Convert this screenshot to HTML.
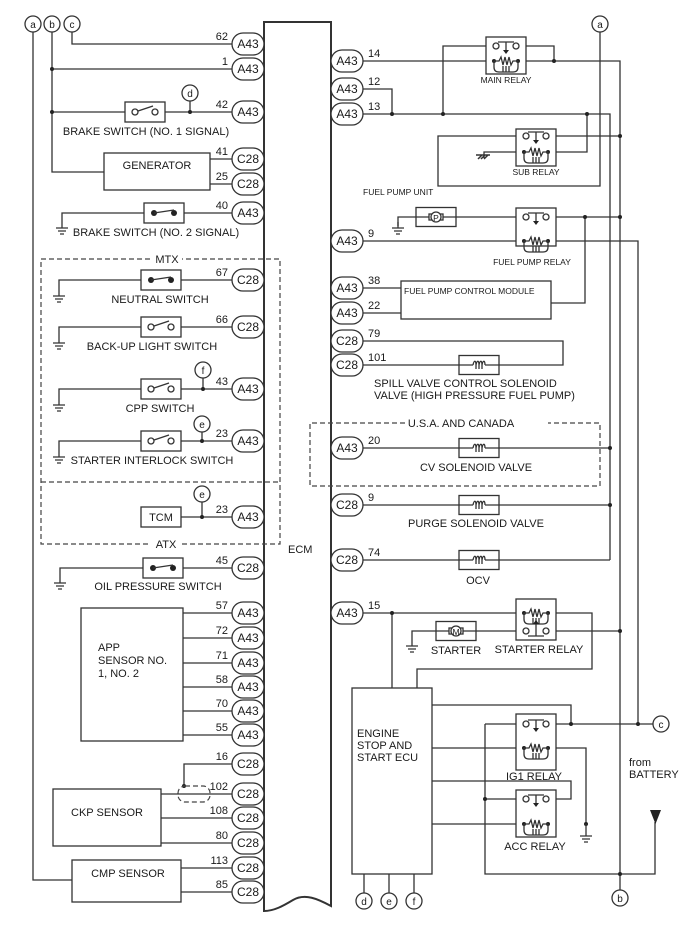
<!DOCTYPE html>
<html><head><meta charset="utf-8"><style>
html,body{margin:0;padding:0;background:#fff;}
svg{display:block;font-family:"Liberation Sans",Arial,sans-serif;}
.w{stroke:#333;stroke-width:1.3;fill:none;}
.b{stroke:#333;stroke-width:1.3;fill:#fff;}
.t{font-size:11px;fill:#1a1a1a;}
.s{font-size:8.5px;fill:#1a1a1a;}
.p{font-size:12px;fill:#1a1a1a;text-anchor:middle;}
.n{font-size:11px;fill:#1a1a1a;}
.c{font-size:10px;fill:#1a1a1a;text-anchor:middle;}
.d{fill:#222;}
.dash{stroke:#444;stroke-width:1.2;fill:none;stroke-dasharray:5,3;}
</style></head><body>
<svg width="688" height="949" viewBox="0 0 688 949" xmlns="http://www.w3.org/2000/svg">
<defs>
 <g id="pill"><rect x="0" y="-11" width="32" height="22" rx="11" class="b"/></g>
 <g id="gnd"><path class="w" d="M0,0V6M-6,6H6M-4,9H4M-2,12H2"/></g>
 <g id="swo"><rect x="0" y="-10" width="40" height="20" class="b"/><circle cx="10" cy="0" r="3" class="b"/><circle cx="30" cy="0" r="3" class="b"/><path class="w" d="M13,-1L28,-6"/></g>
 <g id="swc"><rect x="0" y="-10" width="40" height="20" class="b"/><circle cx="10" cy="0" r="3" class="d"/><circle cx="30" cy="0" r="3" class="d"/><path class="w" d="M10,0L30,-3"/></g>
 <g id="sol"><rect x="0" y="-9.5" width="40" height="19" class="b"/><path class="w" d="M0,0H14M26,0H40M14,0C15,-5 17,-5 17,0M17,0C18,-5 20,-5 20,0M20,0C21,-5 23,-5 23,0M23,0C24,-5 26,-5 26,0" /><path class="w" d="M17,0V4M20,0V4M23,0V4"/></g>
 <g id="con"><circle cx="10" cy="0" r="3" class="b"/><circle cx="30" cy="0" r="3" class="b"/><path class="w" d="M12,-4H28M20,-4V5"/><path class="d" d="M17,4L23,4L20,8Z"/></g>
 <g id="coil"><circle cx="8" cy="0" r="2" class="d"/><circle cx="32" cy="0" r="2" class="d"/><path class="w" d="M8,0H13L15,-4L17,4L19,-4L21,4L23,-4L25,4L27,0H32M8,0V6Q8,11 13,11H27Q32,11 32,6V0M17,5V11M20,5V11M23,5V11"/></g>
 <g id="mot"><rect x="0" y="-9.5" width="40" height="19" class="b"/><path class="w" d="M0,0H13M27,0H40"/><rect x="13" y="-3" width="3" height="6" class="b"/><rect x="24" y="-3" width="3" height="6" class="b"/><circle cx="20" cy="0" r="5" class="b"/></g>
</defs>

<!-- ECM -->
<path class="w" style="stroke-width:2" d="M264,22H331V906C318,899 305,893 293,900C283,906 274,911 264,911Z"/>
<text x="288" y="553" class="t">ECM</text>

<!-- left wires -->
<path class="w" d="M33,32V880H72M52,32V172H104M72,32V44H232M52,69H232M52,112H232"/>
<circle cx="52" cy="69" r="2" class="d"/><circle cx="52" cy="112" r="2" class="d"/>
<circle cx="33" cy="24" r="8" class="b"/><text x="33" y="28" class="c">a</text>
<circle cx="52" cy="24" r="8" class="b"/><text x="52" y="28" class="c">b</text>
<circle cx="72" cy="24" r="8" class="b"/><text x="72" y="28" class="c">c</text>
<use href="#swo" x="125" y="112"/>
<path class="w" d="M190,112V101"/><circle cx="190" cy="112" r="2" class="d"/><circle cx="190" cy="93" r="8" class="b"/><text x="190" y="97" class="c">d</text>
<text x="146" y="135" class="t" text-anchor="middle">BRAKE SWITCH (NO. 1 SIGNAL)</text>
<rect x="104" y="153" width="106" height="37" class="b"/>
<text x="157" y="169" class="t" text-anchor="middle">GENERATOR</text>
<path class="w" d="M210,159H232M210,184H232"/>
<path class="w" d="M62,222V213H232"/><use href="#gnd" x="62" y="222"/>
<use href="#swc" x="144" y="213"/>
<text x="156" y="236" class="t" text-anchor="middle">BRAKE SWITCH (NO. 2 SIGNAL)</text>

<!-- MTX/ATX -->
<path class="dash" d="M150,259H41V544H150M182,544H280V259H182M41,482H280"/>
<text x="167" y="263" class="t" text-anchor="middle">MTX</text>
<text x="166" y="548" class="t" text-anchor="middle">ATX</text>
<path class="w" d="M59,290V280H232M59,337V327H232M59,399V389H232M59,451V441H232"/>
<use href="#gnd" x="59" y="290"/><use href="#gnd" x="59" y="337"/><use href="#gnd" x="59" y="399"/><use href="#gnd" x="59" y="451"/>
<use href="#swc" x="141" y="280"/><use href="#swo" x="141" y="327"/><use href="#swo" x="141" y="389"/><use href="#swo" x="141" y="441"/>
<text x="160" y="303" class="t" text-anchor="middle">NEUTRAL SWITCH</text>
<text x="152" y="350" class="t" text-anchor="middle">BACK-UP LIGHT SWITCH</text>
<text x="160" y="412" class="t" text-anchor="middle">CPP SWITCH</text>
<text x="152" y="464" class="t" text-anchor="middle">STARTER INTERLOCK SWITCH</text>
<path class="w" d="M203,389V378M202,441V432M202,517V502M181,517H232"/>
<circle cx="203" cy="389" r="2" class="d"/><circle cx="202" cy="441" r="2" class="d"/><circle cx="202" cy="517" r="2" class="d"/>
<circle cx="203" cy="370" r="8" class="b"/><text x="203" y="374" class="c">f</text>
<circle cx="202" cy="424" r="8" class="b"/><text x="202" y="428" class="c">e</text>
<circle cx="202" cy="494" r="8" class="b"/><text x="202" y="498" class="c">e</text>
<rect x="141" y="507" width="40" height="20" class="b"/><text x="161" y="521" class="t" text-anchor="middle">TCM</text>

<path class="w" d="M60,577V568H232"/><use href="#gnd" x="60" y="577"/><use href="#swc" x="143" y="568"/>
<text x="158" y="590" class="t" text-anchor="middle">OIL PRESSURE SWITCH</text>

<rect x="81" y="608" width="102" height="133" class="b"/>
<text x="98" y="651" class="t">APP</text><text x="98" y="664" class="t">SENSOR NO.</text><text x="98" y="677" class="t">1, NO. 2</text>
<path class="w" d="M183,613H232M183,638H232M183,663H232M183,687H232M183,711H232M183,735H232"/>
<path class="w" d="M232,764H184V786"/><circle cx="184" cy="786" r="2" class="d"/>
<rect x="178" y="786" width="32" height="16" rx="7" class="dash"/>
<rect x="53" y="789" width="108" height="57" class="b"/><text x="107" y="816" class="t" text-anchor="middle">CKP SENSOR</text>
<path class="w" d="M161,794H232M161,818H232M161,843H232"/>
<rect x="72" y="860" width="109" height="42" class="b"/><text x="128" y="877" class="t" text-anchor="middle">CMP SENSOR</text>
<path class="w" d="M181,868H232M181,892H232"/>

<!-- left pills -->
<g>
<use href="#pill" x="232" y="44"/><text x="248" y="48" class="p">A43</text><text x="228" y="40" class="n" text-anchor="end">62</text>
<use href="#pill" x="232" y="69"/><text x="248" y="73" class="p">A43</text><text x="228" y="65" class="n" text-anchor="end">1</text>
<use href="#pill" x="232" y="112"/><text x="248" y="116" class="p">A43</text><text x="228" y="108" class="n" text-anchor="end">42</text>
<use href="#pill" x="232" y="159"/><text x="248" y="163" class="p">C28</text><text x="228" y="155" class="n" text-anchor="end">41</text>
<use href="#pill" x="232" y="184"/><text x="248" y="188" class="p">C28</text><text x="228" y="180" class="n" text-anchor="end">25</text>
<use href="#pill" x="232" y="213"/><text x="248" y="217" class="p">A43</text><text x="228" y="209" class="n" text-anchor="end">40</text>
<use href="#pill" x="232" y="280"/><text x="248" y="284" class="p">C28</text><text x="228" y="276" class="n" text-anchor="end">67</text>
<use href="#pill" x="232" y="327"/><text x="248" y="331" class="p">C28</text><text x="228" y="323" class="n" text-anchor="end">66</text>
<use href="#pill" x="232" y="389"/><text x="248" y="393" class="p">A43</text><text x="228" y="385" class="n" text-anchor="end">43</text>
<use href="#pill" x="232" y="441"/><text x="248" y="445" class="p">A43</text><text x="228" y="437" class="n" text-anchor="end">23</text>
<use href="#pill" x="232" y="517"/><text x="248" y="521" class="p">A43</text><text x="228" y="513" class="n" text-anchor="end">23</text>
<use href="#pill" x="232" y="568"/><text x="248" y="572" class="p">C28</text><text x="228" y="564" class="n" text-anchor="end">45</text>
<use href="#pill" x="232" y="613"/><text x="248" y="617" class="p">A43</text><text x="228" y="609" class="n" text-anchor="end">57</text>
<use href="#pill" x="232" y="638"/><text x="248" y="642" class="p">A43</text><text x="228" y="634" class="n" text-anchor="end">72</text>
<use href="#pill" x="232" y="663"/><text x="248" y="667" class="p">A43</text><text x="228" y="659" class="n" text-anchor="end">71</text>
<use href="#pill" x="232" y="687"/><text x="248" y="691" class="p">A43</text><text x="228" y="683" class="n" text-anchor="end">58</text>
<use href="#pill" x="232" y="711"/><text x="248" y="715" class="p">A43</text><text x="228" y="707" class="n" text-anchor="end">70</text>
<use href="#pill" x="232" y="735"/><text x="248" y="739" class="p">A43</text><text x="228" y="731" class="n" text-anchor="end">55</text>
<use href="#pill" x="232" y="764"/><text x="248" y="768" class="p">C28</text><text x="228" y="760" class="n" text-anchor="end">16</text>
<use href="#pill" x="232" y="794"/><text x="248" y="798" class="p">C28</text><text x="228" y="790" class="n" text-anchor="end">102</text>
<use href="#pill" x="232" y="818"/><text x="248" y="822" class="p">C28</text><text x="228" y="814" class="n" text-anchor="end">108</text>
<use href="#pill" x="232" y="843"/><text x="248" y="847" class="p">C28</text><text x="228" y="839" class="n" text-anchor="end">80</text>
<use href="#pill" x="232" y="868"/><text x="248" y="872" class="p">C28</text><text x="228" y="864" class="n" text-anchor="end">113</text>
<use href="#pill" x="232" y="892"/><text x="248" y="896" class="p">C28</text><text x="228" y="888" class="n" text-anchor="end">85</text>
</g>

<!-- right wires -->
<path class="w" d="M363,61H620V898M363,89H392V114M363,114H610V560M443,114V46H496M516,46H554V61M587,114V152H541M600,32V186H438V136H522M546,136H620M531,152H484V158"/>
<circle cx="392" cy="114" r="2" class="d"/><circle cx="443" cy="114" r="2" class="d"/><circle cx="587" cy="114" r="2" class="d"/><circle cx="554" cy="61" r="2" class="d"/><circle cx="620" cy="136" r="2" class="d"/>
<path class="w" d="M478,159L482,155M481,159L485,155M484,159L488,155M476,155H490" style="stroke-width:1.5"/>
<circle cx="600" cy="24" r="8" class="b"/><text x="600" y="28" class="c">a</text>
<rect x="486" y="37" width="40" height="37" class="b"/><use href="#con" x="486" y="46"/><use href="#coil" x="486" y="61"/>
<text x="506" y="83" class="s" text-anchor="middle">MAIN RELAY</text>
<rect x="516" y="129" width="40" height="37" class="b"/><use href="#con" x="516" y="136"/><use href="#coil" x="516" y="152"/>
<text x="536" y="175" class="s" text-anchor="middle">SUB RELAY</text>
<text x="363" y="195" class="s">FUEL PUMP UNIT</text>

<path class="w" d="M398,226V217H526M546,217H620M585,217V303H551M363,241H638V724"/>
<use href="#gnd" x="398" y="222"/><use href="#mot" x="416" y="217"/><text x="436" y="221" class="s" text-anchor="middle">P</text>
<circle cx="585" cy="217" r="2" class="d"/><circle cx="620" cy="217" r="2" class="d"/>
<rect x="516" y="208" width="40" height="38" class="b"/><use href="#con" x="516" y="217"/><use href="#coil" x="516" y="241"/>
<text x="532" y="265" class="s" text-anchor="middle">FUEL PUMP RELAY</text>

<rect x="401" y="281" width="150" height="38" class="b"/><text x="404" y="294" class="s">FUEL PUMP CONTROL MODULE</text>
<path class="w" d="M363,288H401M363,313H401M363,341H563V365H363"/>
<use href="#sol" x="459" y="365"/>
<text x="374" y="387" class="t">SPILL VALVE CONTROL SOLENOID</text>
<text x="374" y="399" class="t">VALVE (HIGH PRESSURE FUEL PUMP)</text>
<path class="dash" d="M405,423H310V486H600V423H548"/>
<text x="461" y="427" class="t" text-anchor="middle">U.S.A. AND CANADA</text>
<path class="w" d="M363,448H610M363,505H610M363,560H610"/>
<circle cx="610" cy="448" r="2" class="d"/><circle cx="610" cy="505" r="2" class="d"/>
<use href="#sol" x="459" y="448"/><use href="#sol" x="459" y="505"/><use href="#sol" x="459" y="560"/>
<text x="476" y="471" class="t" text-anchor="middle">CV SOLENOID VALVE</text>
<text x="476" y="527" class="t" text-anchor="middle">PURGE SOLENOID VALVE</text>
<text x="478" y="584" class="t" text-anchor="middle">OCV</text>

<path class="w" d="M363,613H592V669H417V688M392,613V688M412,640V631H526M546,631H620"/>
<circle cx="392" cy="613" r="2" class="d"/><circle cx="620" cy="631" r="2" class="d"/>
<use href="#gnd" x="412" y="640"/><use href="#mot" x="436" y="631"/><text x="456" y="635" class="s" text-anchor="middle">M</text>
<rect x="516" y="599" width="40" height="41" class="b"/><use href="#coil" x="516" y="613"/>
<circle cx="526" cy="631" r="3" class="b"/><circle cx="546" cy="631" r="3" class="b"/><path class="w" d="M528,636H544M536,636V623"/><path class="d" d="M533,624H539L536,620Z"/>
<text x="456" y="654" class="t" text-anchor="middle">STARTER</text>
<text x="539" y="653" class="t" text-anchor="middle">STARTER RELAY</text>

<rect x="352" y="688" width="80" height="186" class="b"/>
<text x="357" y="737" class="t">ENGINE</text><text x="357" y="749" class="t">STOP AND</text><text x="357" y="761" class="t">START ECU</text>
<path class="w" d="M432,705H571V724M432,748H586V824M432,781H571V799H546M432,824H541M485,724H522M546,724H653M485,724V874H655V822M485,799H522"/>
<circle cx="571" cy="724" r="2" class="d"/><circle cx="638" cy="724" r="2" class="d"/><circle cx="485" cy="799" r="2" class="d"/><circle cx="586" cy="824" r="2" class="d"/><circle cx="620" cy="874" r="2" class="d"/>
<use href="#gnd" x="586" y="830"/><path class="w" d="M586,824V830"/>
<path class="d" d="M650,810H661L655.5,824Z"/>
<rect x="516" y="714" width="40" height="56" class="b"/><use href="#con" x="516" y="724"/><use href="#coil" x="516" y="748"/>
<text x="534" y="780" class="t" text-anchor="middle">IG1 RELAY</text>
<rect x="516" y="790" width="40" height="47" class="b"/><use href="#con" x="516" y="799"/><use href="#coil" x="516" y="824"/>
<text x="535" y="850" class="t" text-anchor="middle">ACC RELAY</text>
<circle cx="661" cy="724" r="8" class="b"/><text x="661" y="728" class="c">c</text>
<text x="629" y="766" class="t">from</text><text x="629" y="778" class="t">BATTERY</text>
<path class="w" d="M364,874V893M389,874V893M414,874V893"/>
<circle cx="364" cy="901" r="8" class="b"/><text x="364" y="905" class="c">d</text>
<circle cx="389" cy="901" r="8" class="b"/><text x="389" y="905" class="c">e</text>
<circle cx="414" cy="901" r="8" class="b"/><text x="414" y="905" class="c">f</text>
<circle cx="620" cy="898" r="8" class="b"/><text x="620" y="902" class="c">b</text>

<!-- right pills -->
<g>
<use href="#pill" x="331" y="61"/><text x="347" y="65" class="p">A43</text><text x="368" y="57" class="n">14</text>
<use href="#pill" x="331" y="89"/><text x="347" y="93" class="p">A43</text><text x="368" y="85" class="n">12</text>
<use href="#pill" x="331" y="114"/><text x="347" y="118" class="p">A43</text><text x="368" y="110" class="n">13</text>
<use href="#pill" x="331" y="241"/><text x="347" y="245" class="p">A43</text><text x="368" y="237" class="n">9</text>
<use href="#pill" x="331" y="288"/><text x="347" y="292" class="p">A43</text><text x="368" y="284" class="n">38</text>
<use href="#pill" x="331" y="313"/><text x="347" y="317" class="p">A43</text><text x="368" y="309" class="n">22</text>
<use href="#pill" x="331" y="341"/><text x="347" y="345" class="p">C28</text><text x="368" y="337" class="n">79</text>
<use href="#pill" x="331" y="365"/><text x="347" y="369" class="p">C28</text><text x="368" y="361" class="n">101</text>
<use href="#pill" x="331" y="448"/><text x="347" y="452" class="p">A43</text><text x="368" y="444" class="n">20</text>
<use href="#pill" x="331" y="505"/><text x="347" y="509" class="p">C28</text><text x="368" y="501" class="n">9</text>
<use href="#pill" x="331" y="560"/><text x="347" y="564" class="p">C28</text><text x="368" y="556" class="n">74</text>
<use href="#pill" x="331" y="613"/><text x="347" y="617" class="p">A43</text><text x="368" y="609" class="n">15</text>
</g>
</svg>
</body></html>
